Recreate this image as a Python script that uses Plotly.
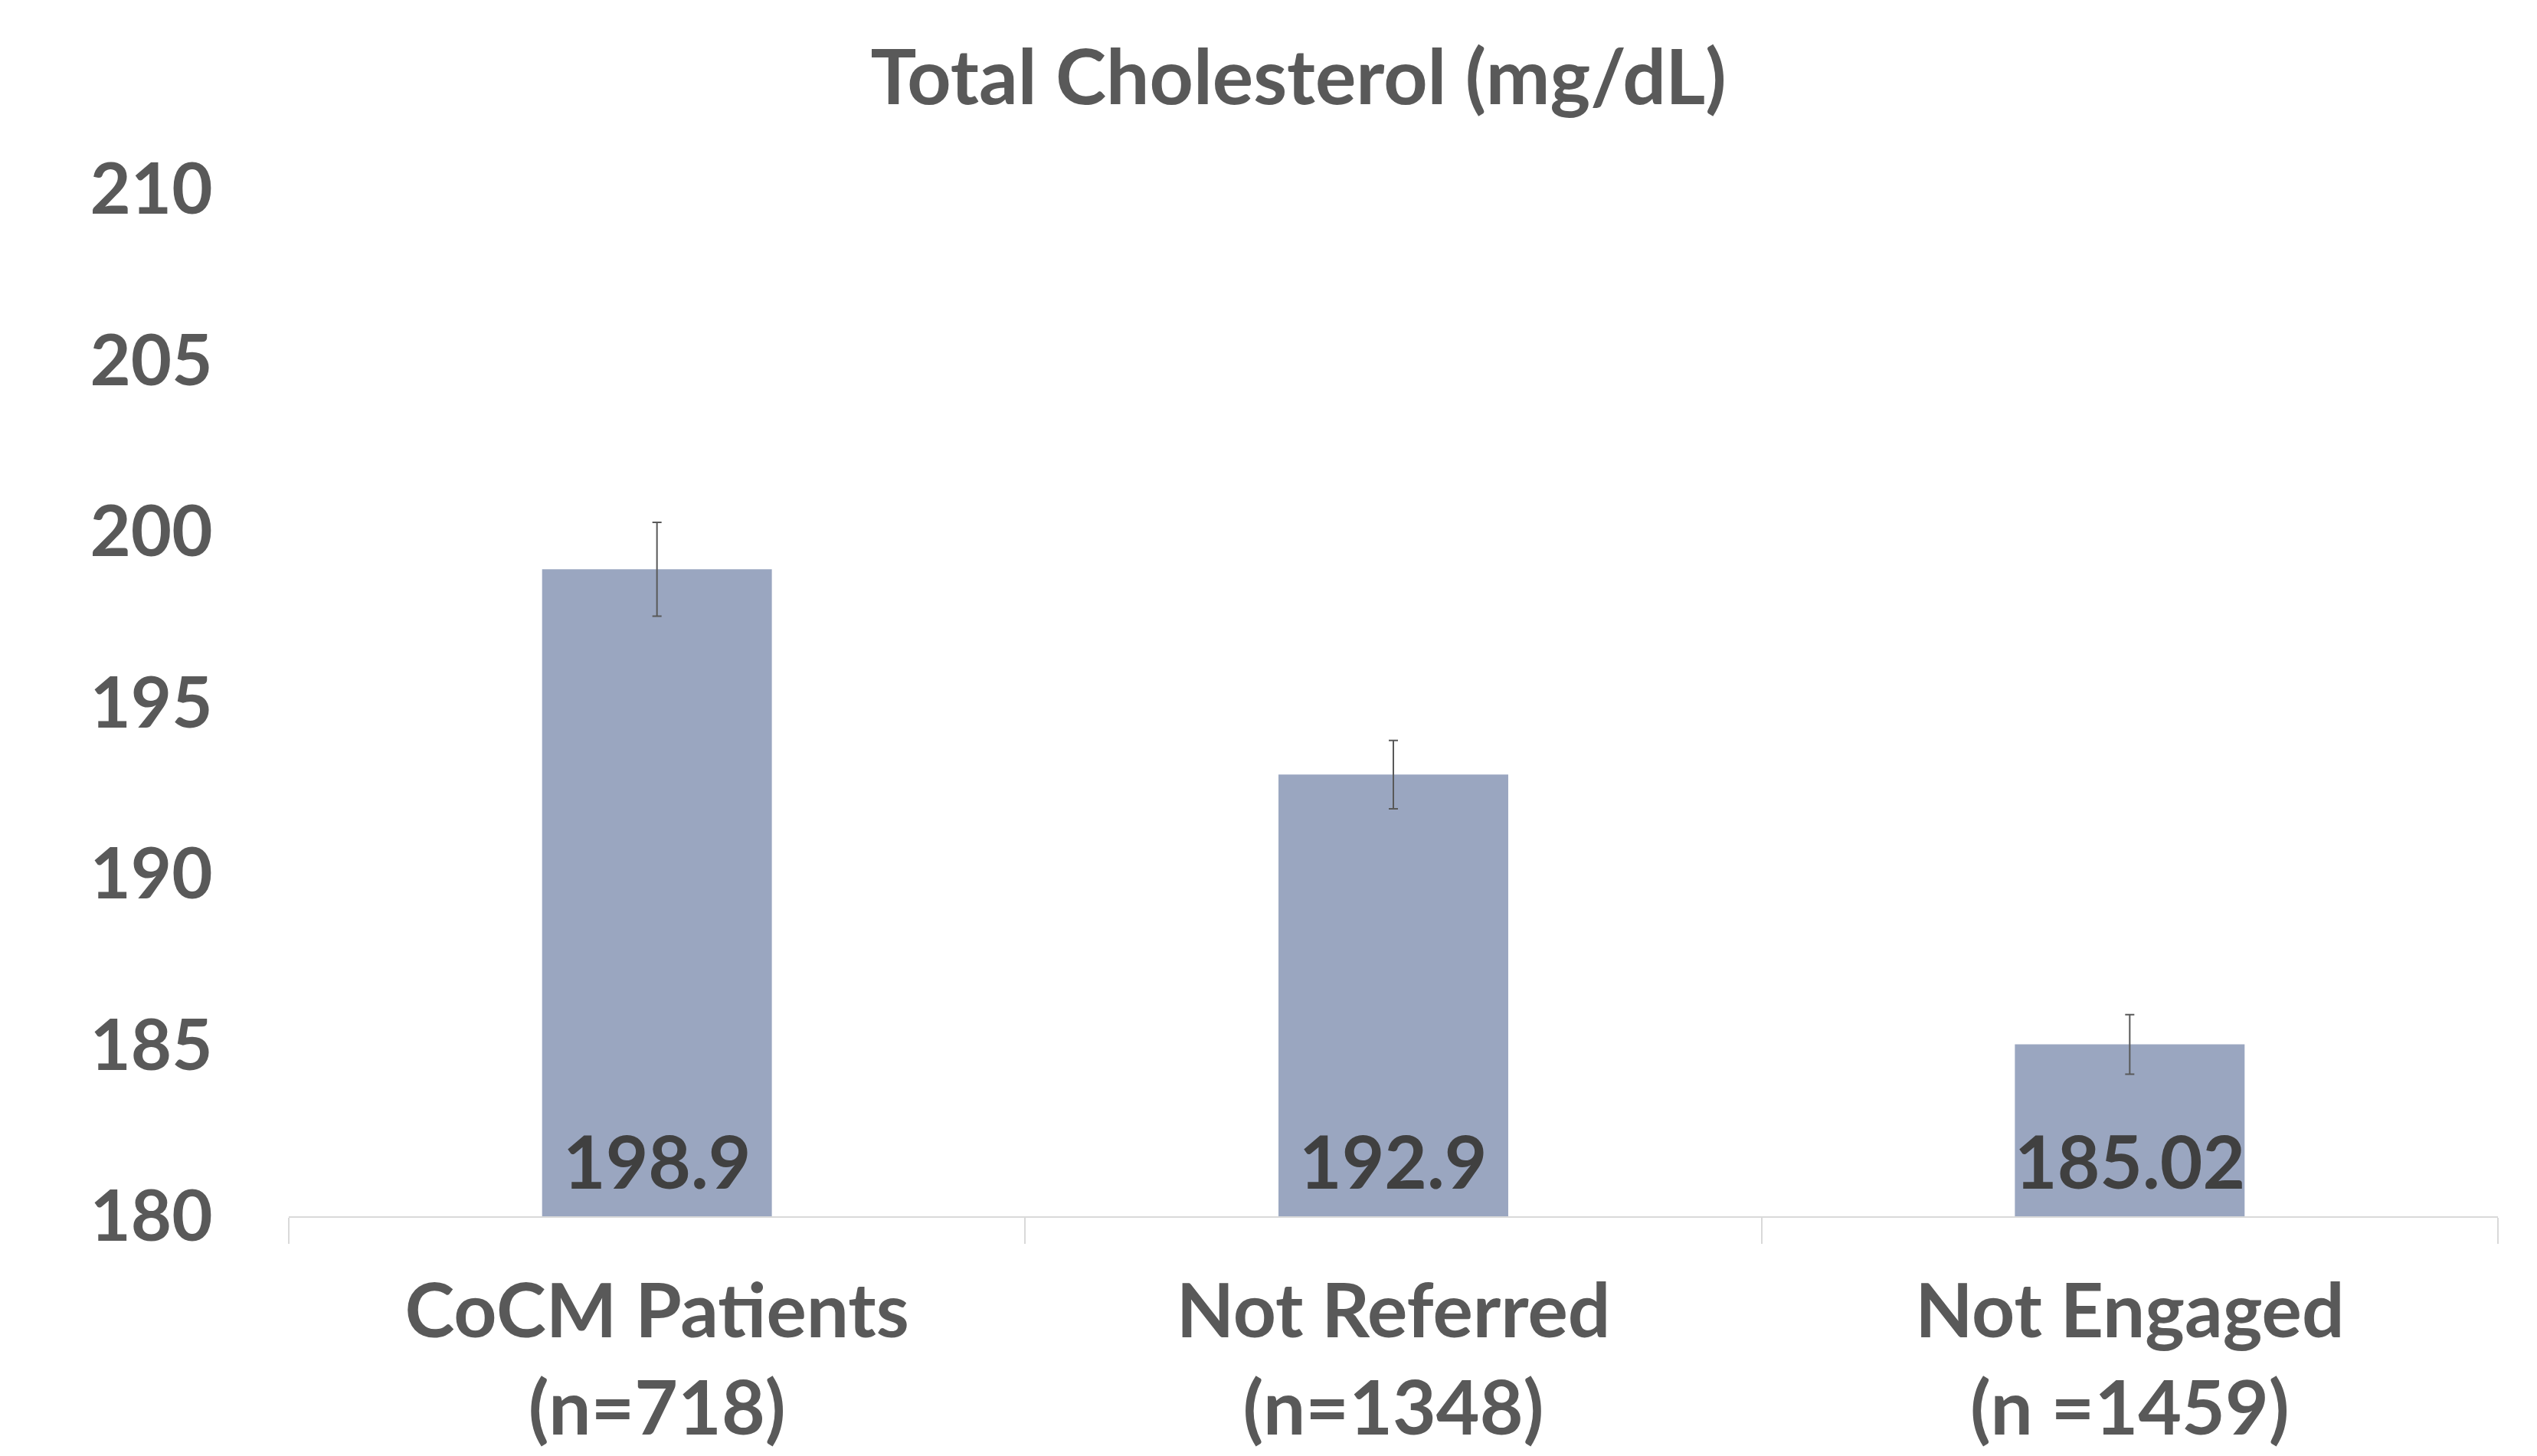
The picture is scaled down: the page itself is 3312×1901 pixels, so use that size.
import plotly.graph_objects as go

categories = ["CoCM Patients<br>(n=718)", "Not Referred<br>(n=1348)", "Not Engaged<br>(n =1459)"]
values = [198.9, 192.9, 185.02]
errors = [1.37, 1.0, 0.87]
value_labels = ["198.9", "192.9", "185.02"]
y_ticks = [180, 185, 190, 195, 200, 205, 210]

FONT = "Lato"
W, H = 3312, 1901
fig = go.Figure()
fig.add_trace(go.Bar(
    x=categories, y=values,
    marker=dict(color="#9AA6C0", line=dict(width=0)),
    error_y=dict(type="data", array=errors, visible=True, color="#595959", thickness=2, width=6),
    width=0.312,
))

for c, v, lab in zip(categories, values, value_labels):
    fig.add_annotation(x=c, y=180, xref="x", yref="y", text="<b>%s</b>" % lab,
                       showarrow=False, yanchor="bottom", yshift=14,
                       font=dict(family=FONT, size=96, color="#404040"))

fig.update_layout(
    width=W, height=H,
    margin=dict(l=377, r=51, t=247, b=313, autoexpand=False),
    paper_bgcolor="white", plot_bgcolor="white",
    showlegend=False,
    title=dict(text="<b>Total Cholesterol (mg/dL)</b>", x=1695 / W, xref="container", xanchor="center",
               y=1 - 101 / H, yref="container", yanchor="middle",
               font=dict(family=FONT, size=100, color="#595959")),
    font=dict(family=FONT, color="#595959"),
)
fig.update_xaxes(
    automargin=False,
    showline=True, linecolor="#D9D9D9", linewidth=2,
    ticks="outside", tickson="boundaries", ticklen=34, tickcolor="#D9D9D9", tickwidth=2,
    tickfont=dict(family=FONT, size=98, color="#595959"),
    ticklabelstandoff=38,
    showgrid=False, zeroline=False,
    ticktext=["<b>%s</b>" % c for c in categories], tickvals=categories,
)
fig.update_yaxes(
    automargin=False,
    range=[180, 210], tickvals=y_ticks, ticktext=["<b>%d</b>" % t for t in y_ticks],
    showgrid=False, zeroline=False, showline=False,
    ticks="outside", ticklen=80, tickcolor="rgba(0,0,0,0)",
    tickfont=dict(family=FONT, size=92, color="#595959"),
)

fig.write_html("out.html", config={"displayModeBar": False},
               post_script="document.body.style.margin='0';document.body.style.overflow='hidden';")
